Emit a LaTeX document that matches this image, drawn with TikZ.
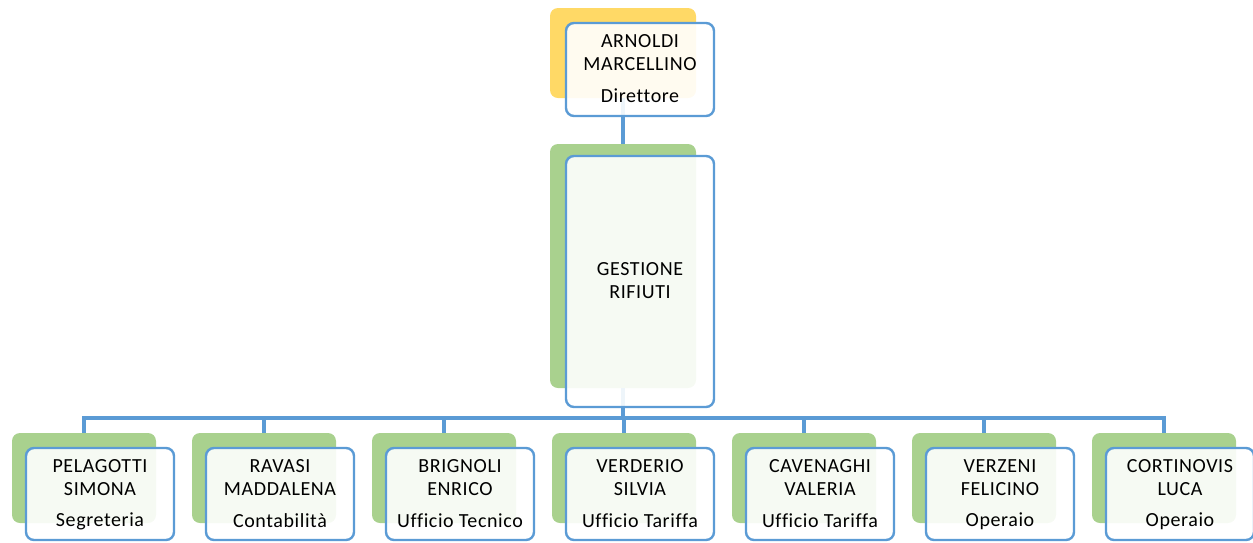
\documentclass[tikz,border=0pt]{standalone}
\usepackage{fontspec}
\setmainfont[Ligatures=NoCommon,LetterSpace=3]{Carlito}
\definecolor{lineblue}{HTML}{5B9BD5}
\definecolor{ygold}{HTML}{FFD966}
\definecolor{lgreen}{HTML}{A9D18E}
\begin{document}
\begin{tikzpicture}[x=1pt,y=-1pt,
  back/.style={rectangle,rounded corners=8pt,draw=none,inner sep=0pt},
  front/.style={rectangle,rounded corners=8pt,draw=lineblue,draw opacity=1,line width=2.4pt,fill=white,fill opacity=0.9,inner sep=0pt,minimum width=148pt},
  conn/.style={draw=lineblue,line width=3.2pt},
  txt/.style={font=\fontsize{20}{23}\selectfont,align=center,inner sep=0pt,text=black,text opacity=1}]
\useasboundingbox (0,0) rectangle (1253,542);
% background shapes
\node[back,fill=ygold,minimum width=146pt,minimum height=90pt] (tg) at (623,53) {};
\node[back,fill=lgreen,minimum width=146pt,minimum height=244pt] (mg) at (623,266) {};
\foreach \i in {0,...,6}{
  \pgfmathsetmacro{\cx}{83+180*\i}
  \node[back,fill=lgreen,minimum width=144pt,minimum height=90pt] (g\i) at (\cx+1,478) {};
}
% connectors
\coordinate (bus) at (623,418);
\draw[conn] (tg.south) -- (mg.north);
\draw[conn] (mg.south) -- (bus);
\foreach \i in {0,...,6}{
  \draw[conn] (bus) -| (g\i.north);
}
% front boxes
\node[front,minimum height=93pt] (t) at (640,69.5) {};
\node[front,minimum height=251pt] (m) at (640,281.5) {};
\foreach \i in {0,...,6}{
  \pgfmathsetmacro{\cx}{83+180*\i}
  \node[front,minimum height=92pt] (b\i) at (\cx+17,494) {};
}
% texts
\node[txt] (tn) at (640,53) {ARNOLDI\\MARCELLINO};
\node[txt] (tr) at (640,96) {Direttore};
\node[txt] (mn) at (640,281) {GESTIONE\\RIFIUTI};
\node[txt] (n0) at (100,477.5) {PELAGOTTI\\SIMONA};
\node[txt] (r0) at (100,521) {Segreteria};
\node[txt] (n1) at (280,477.5) {RAVASI\\MADDALENA};
\node[txt] (r1) at (280,521) {Contabilità};
\node[txt] (n2) at (460,477.5) {BRIGNOLI\\ENRICO};
\node[txt] (r2) at (460,521) {Ufficio Tecnico};
\node[txt] (n3) at (640,477.5) {VERDERIO\\SILVIA};
\node[txt] (r3) at (640,521) {Ufficio Tariffa};
\node[txt] (n4) at (820,477.5) {CAVENAGHI\\VALERIA};
\node[txt] (r4) at (820,521) {Ufficio Tariffa};
\node[txt] (n5) at (1000,477.5) {VERZENI\\FELICINO};
\node[txt] (r5) at (1000,521) {Operaio};
\node[txt] (n6) at (1180,477.5) {CORTINOVIS\\LUCA};
\node[txt] (r6) at (1180,521) {Operaio};
\end{tikzpicture}
\end{document}
